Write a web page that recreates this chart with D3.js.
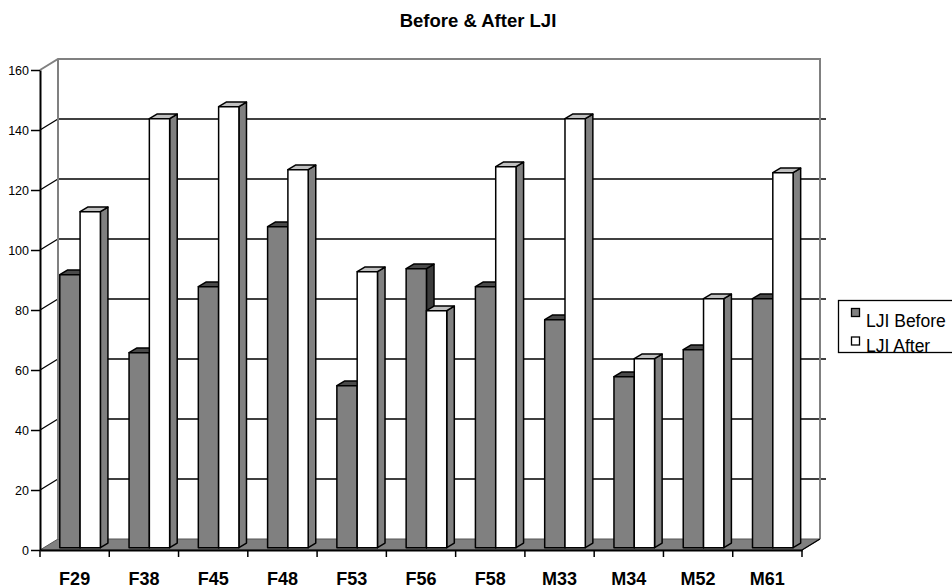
<!DOCTYPE html>
<html>
<head>
<meta charset="utf-8">
<script src="https://cdn.jsdelivr.net/npm/d3@7"></script>
<style>
  html, body { margin: 0; padding: 0; background: #fff; }
  svg { display: block; font-family: "Liberation Sans", Arial, sans-serif; }
</style>
</head>
<body>
<svg id="chart" width="952" height="588"></svg>
<script>
// LJI scores per subject, before and after
const categories = ["F29", "F38", "F45", "F48", "F53", "F56", "F58", "M33", "M34", "M52", "M61"];
const ljiBefore  = [91, 65, 87, 107, 54, 93, 87, 76, 57, 66, 83];
const ljiAfter   = [112, 143, 147, 126, 92, 79, 127, 143, 63, 83, 125];
const seriesNames = ["LJI Before", "LJI After"];
const yTicks = [0, 20, 40, 60, 80, 100, 120, 140, 160];
const chartTitle = "Before & After LJI";

(function draw() {
  const svg = d3.select("#chart");

  // plot box (front plane) and oblique depth vector
  const plotL = 40, plotR = 802, plotT = 70, plotB = 550;
  const depth = { dx: 18, dy: -11 };
  const off = f => [depth.dx * f, depth.dy * f];

  const y = d3.scaleLinear().domain([0, 160]).range([plotB, plotT]);
  const x = d3.scaleBand().domain(categories).range([plotL, plotR]);
  const groupW = 40.6, groupOff = 16;
  const x1 = d3.scaleBand().domain(seriesNames).range([0, groupW]);

  // title
  svg.append("text")
    .attr("x", 478).attr("y", 27)
    .attr("text-anchor", "middle")
    .attr("font-weight", "bold").attr("font-size", 18.5)
    .text(chartTitle);

  // back wall
  const [bx, by] = off(1);
  svg.append("rect")
    .attr("x", plotL + bx).attr("y", y(160) + by)
    .attr("width", plotR - plotL).attr("height", y(0) - y(160))
    .attr("fill", "#fff");

  // floor
  svg.append("path")
    .attr("d", d3.line()([[plotL, y(0)], [plotR, y(0)], [plotR + bx, y(0) + by], [plotL + bx, y(0) + by]]) + "Z")
    .attr("fill", "#808080").attr("stroke", "#555").attr("stroke-width", 1);

  // gridlines: back wall + side wall
  const grid = svg.append("g").attr("stroke", "#000").attr("stroke-width", 1.3);
  yTicks.filter(v => v > 0 && v < 160).forEach(v => {
    grid.append("line")
      .attr("x1", plotL + bx).attr("x2", plotR + bx + 6)
      .attr("y1", y(v) + by).attr("y2", y(v) + by);
    grid.append("line")
      .attr("x1", plotL).attr("x2", plotL + bx)
      .attr("y1", y(v)).attr("y2", y(v) + by);
  });

  // wall outline
  const wall = svg.append("g").attr("stroke", "#808080").attr("stroke-width", 2).attr("fill", "none");
  wall.append("path").attr("d", d3.line()([
    [plotL, y(160)], [plotL + bx, y(160) + by], [plotR + bx, y(160) + by], [plotR + bx, y(0) + by]
  ]));
  wall.append("line")
    .attr("x1", plotL + bx).attr("x2", plotL + bx)
    .attr("y1", y(160) + by).attr("y2", y(0) + by);

  // floor right edge
  svg.append("path")
    .attr("d", d3.line()([[plotR, y(0)], [plotR + bx, y(0) + by]]))
    .attr("stroke", "#000").attr("stroke-width", 1.3).attr("fill", "none");

  // 3D bars
  const f0 = 0.21, f1 = 0.63;
  const [ox0, oy0] = off(f0), [ox1, oy1] = off(f1);
  const styles = {
    "LJI Before": { front: "#808080", top: "#4a4a4a", side: "#3c3c3c" },
    "LJI After":  { front: "#ffffff", top: "#c0c0c0", side: "#808080" }
  };
  const poly = pts => d3.line()(pts) + "Z";
  const bars = svg.append("g").attr("stroke", "#000").attr("stroke-width", 1.5).attr("stroke-linejoin", "round");
  categories.forEach((c, i) => {
    [[seriesNames[0], ljiBefore[i]], [seriesNames[1], ljiAfter[i]]].forEach(([s, v]) => {
      const xa = x(c) + groupOff + x1(s), xb = xa + x1.bandwidth();
      const yt = y(v), yb = y(0);
      const st = styles[s];
      // side face
      bars.append("path").attr("fill", st.side).attr("d", poly([
        [xb + ox0, yt + oy0], [xb + ox1, yt + oy1], [xb + ox1, yb + oy1], [xb + ox0, yb + oy0]
      ]));
      // top face
      bars.append("path").attr("fill", st.top).attr("d", poly([
        [xa + ox0, yt + oy0], [xb + ox0, yt + oy0], [xb + ox1, yt + oy1], [xa + ox1, yt + oy1]
      ]));
      // front face
      bars.append("path").attr("fill", st.front).attr("d", poly([
        [xa + ox0, yt + oy0], [xb + ox0, yt + oy0], [xb + ox0, yb + oy0], [xa + ox0, yb + oy0]
      ]));
    });
  });

  // value axis
  const yAxis = svg.append("g")
    .attr("transform", `translate(${plotL},0)`)
    .call(d3.axisLeft(y).tickValues(yTicks).tickSize(9).tickSizeOuter(0).tickPadding(2));
  yAxis.select(".domain").attr("stroke", "#000").attr("stroke-width", 2);
  yAxis.selectAll(".tick line").attr("stroke", "#000").attr("stroke-width", 1.5);
  yAxis.selectAll(".tick text")
    .attr("font-family", "Liberation Sans, Arial, sans-serif")
    .attr("font-size", 12.5).attr("fill", "#000");

  // category axis
  const xAxis = svg.append("g")
    .attr("transform", `translate(0,${plotB})`)
    .call(d3.axisBottom(x).tickSize(0).tickPadding(22).tickSizeOuter(0));
  xAxis.select(".domain").attr("stroke", "#000").attr("stroke-width", 2);
  xAxis.selectAll(".tick text")
    .attr("font-family", "Liberation Sans, Arial, sans-serif")
    .attr("font-size", 18).attr("font-weight", "bold").attr("fill", "#000");
  const bounds = categories.map(c => x(c)).concat([x.range()[1]]);
  xAxis.selectAll(".bound").data(bounds).join("line")
    .attr("class", "bound")
    .attr("x1", d => d).attr("x2", d => d)
    .attr("y1", 0).attr("y2", 7)
    .attr("stroke", "#000").attr("stroke-width", 1.5);

  // legend
  const lg = svg.append("g");
  lg.append("rect")
    .attr("x", 838.5).attr("y", 300.5).attr("width", 130).attr("height", 52)
    .attr("fill", "#fff").attr("stroke", "#000").attr("stroke-width", 1.3);
  seriesNames.forEach((s, i) => {
    lg.append("rect")
      .attr("x", 851.5).attr("y", 308.5 + i * 28.5).attr("width", 8).attr("height", 8)
      .attr("fill", styles[s].front).attr("stroke", "#000").attr("stroke-width", 1.3);
    lg.append("text")
      .attr("x", 866).attr("y", 327 + i * 25)
      .attr("font-size", 17.5).attr("fill", "#000")
      .text(s);
  });
})();
</script>
</body>
</html>
